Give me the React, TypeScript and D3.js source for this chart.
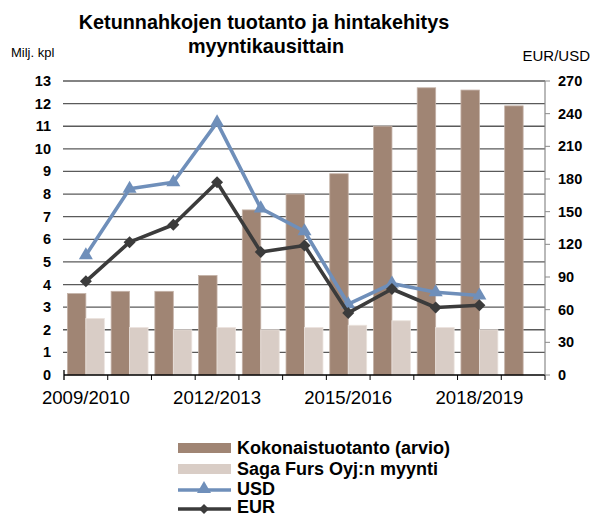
import React from 'react';
import * as d3 from 'd3';

const seasons = [
  '2009/2010', '2010/2011', '2011/2012', '2012/2013', '2013/2014', '2014/2015',
  '2015/2016', '2016/2017', '2017/2018', '2018/2019', '2019/2020',
];
const total = [3.6, 3.7, 3.7, 4.4, 7.3, 8.0, 8.9, 11.0, 12.7, 12.6, 11.9];
const saga = [2.5, 2.1, 2.0, 2.1, 2.0, 2.1, 2.2, 2.4, 2.1, 2.0, null];
const usd = [110, 171, 177, 232, 153, 132, 65, 84, 76, 73, null];
const eur = [86, 122, 138, 177, 113, 119, 57, 79, 62, 64, null];
const leftTicks = d3.range(0, 14);
const rightTicks = d3.range(0, 271, 30);
const shownLabels = ['2009/2010', '2012/2013', '2015/2016', '2018/2019'];

const W = 602;
const H = 517;
const m = { left: 64, right: 57, top: 81, bottom: 142 };
const font = '"Liberation Sans", Arial, sans-serif';

const cBrown = '#a08574';
const cLight = '#d9cdc6';
const cBlue = '#6f8fba';
const cDark = '#3b3b3b';

const triangle = d3.symbol().type(d3.symbolTriangle).size(85);
const diamond = (s: number) => `M0,${-s}L${s},0L0,${s}L${-s},0Z`;

export default function App() {
  const x = d3.scaleBand<string>().domain(seasons).range([m.left, W - m.right]);
  const inner = d3.scaleBand<string>().domain(['t', 's']).range([3.4, x.bandwidth() - 3.4]);
  const yL = d3.scaleLinear().domain([0, 13]).range([H - m.bottom, m.top]);
  const yR = d3.scaleLinear().domain([0, 270]).range([H - m.bottom, m.top]);
  const cx = (i: number) => (x(seasons[i]) as number) + x.bandwidth() / 2;

  const lineGen = d3
    .line<number | null>()
    .defined((d) => d != null)
    .x((_, i) => cx(i))
    .y((d) => yR(d as number));

  const x0 = m.left;
  const x1 = W - m.right;
  const yBase = yL(0);

  return (
    <svg width={W} height={H} style={{ position: 'absolute', left: 0, top: 0 }} fontFamily={font}>
      <rect width={W} height={H} fill="#fff" />
      <text x={264} y={29} textAnchor="middle" fontWeight="bold" fontSize={19.8}>
        Ketunnahkojen tuotanto ja hintakehitys
      </text>
      <text x={266} y={53} textAnchor="middle" fontWeight="bold" fontSize={19.8}>
        myyntikausittain
      </text>
      <text x={11} y={57} fontSize={13}>Milj. kpl</text>
      <text x={590} y={61} textAnchor="end" fontSize={15}>EUR/USD</text>

      {/* gridlines */}
      {leftTicks.slice(1).map((t) => (
        <line key={t} x1={x0 - 1} x2={x1} y1={yL(t)} y2={yL(t)} stroke="#5a5a5a" strokeWidth={1.3} />
      ))}
      {leftTicks.map((t) => (
        <text key={t} x={51} y={yL(t) + 5} textAnchor="end" fontWeight="bold" fontSize={14.5}>{t}</text>
      ))}

      {/* bars */}
      {seasons.map((s, i) => (
        <g key={s}>
          <rect
            x={(x(s) as number) + (inner('t') as number)}
            y={yL(total[i])}
            width={inner.bandwidth()}
            height={yBase - yL(total[i])}
            fill={cBrown}
            stroke="#c4b2a7"
            strokeWidth={0.8}
          />
          {saga[i] != null && (
            <rect
              x={(x(s) as number) + (inner('s') as number)}
              y={yL(saga[i] as number)}
              width={inner.bandwidth()}
              height={yBase - yL(saga[i] as number)}
              fill={cLight}
              stroke="#ebe3de"
              strokeWidth={0.8}
            />
          )}
        </g>
      ))}

      {/* x axis */}
      <line x1={x0} x2={x1} y1={yBase} y2={yBase} stroke="#000" strokeWidth={1.3} />
      <line x1={x0} x2={x0} y1={yBase - 5} y2={yBase + 5} stroke="#000" strokeWidth={1.3} />
      {seasons.map((s) => (
        <line key={s} x1={(x(s) as number) + x.bandwidth()} x2={(x(s) as number) + x.bandwidth()} y1={yBase} y2={yBase + 5} stroke="#000" strokeWidth={1} />
      ))}
      {seasons.map((s, i) =>
        shownLabels.includes(s) ? (
          <text key={s} x={cx(i)} y={403.5} textAnchor="middle" fontSize={18.6}>{s}</text>
        ) : null
      )}

      {/* right axis */}
      <line x1={x1} x2={x1} y1={m.top} y2={yBase} stroke="#8a8a8a" strokeWidth={1.2} />
      {rightTicks.map((t) => (
        <g key={t}>
          <line x1={x1} x2={x1 + 5} y1={yR(t)} y2={yR(t)} stroke="#8a8a8a" strokeWidth={1} />
          <text x={558} y={yR(t) + 5} fontWeight="bold" fontSize={14.5}>{t}</text>
        </g>
      ))}

      {/* lines */}
      <path d={lineGen(usd) || ''} fill="none" stroke={cBlue} strokeWidth={3.6} strokeLinejoin="round" />
      {usd.map((v, i) =>
        v == null ? null : (
          <path key={i} d={triangle() || ''} transform={`translate(${cx(i)},${yR(v)})`} fill={cBlue} />
        )
      )}
      <path d={lineGen(eur) || ''} fill="none" stroke={cDark} strokeWidth={3.6} strokeLinejoin="round" />
      {eur.map((v, i) =>
        v == null ? null : (
          <path key={i} d={diamond(6)} transform={`translate(${cx(i)},${yR(v)})`} fill={cDark} />
        )
      )}

      {/* legend */}
      <g fontWeight="bold" fontSize={18}>
        <rect x={178} y={443} width={53} height={10} fill={cBrown} />
        <text x={237} y={454}>Kokonaistuotanto (arvio)</text>
        <rect x={178} y={464} width={53} height={10} fill={cLight} />
        <text x={237} y={474.5}>Saga Furs Oyj:n myynti</text>
        <line x1={178} x2={231} y1={490} y2={490} stroke={cBlue} strokeWidth={3.6} />
        <path d={triangle() || ''} transform="translate(204,489)" fill={cBlue} />
        <text x={237} y={494.5}>USD</text>
        <line x1={178} x2={231} y1={509} y2={509} stroke={cDark} strokeWidth={3.6} />
        <path d={diamond(5)} transform="translate(204,509)" fill={cDark} />
        <text x={237} y={513}>EUR</text>
      </g>
    </svg>
  );
}
